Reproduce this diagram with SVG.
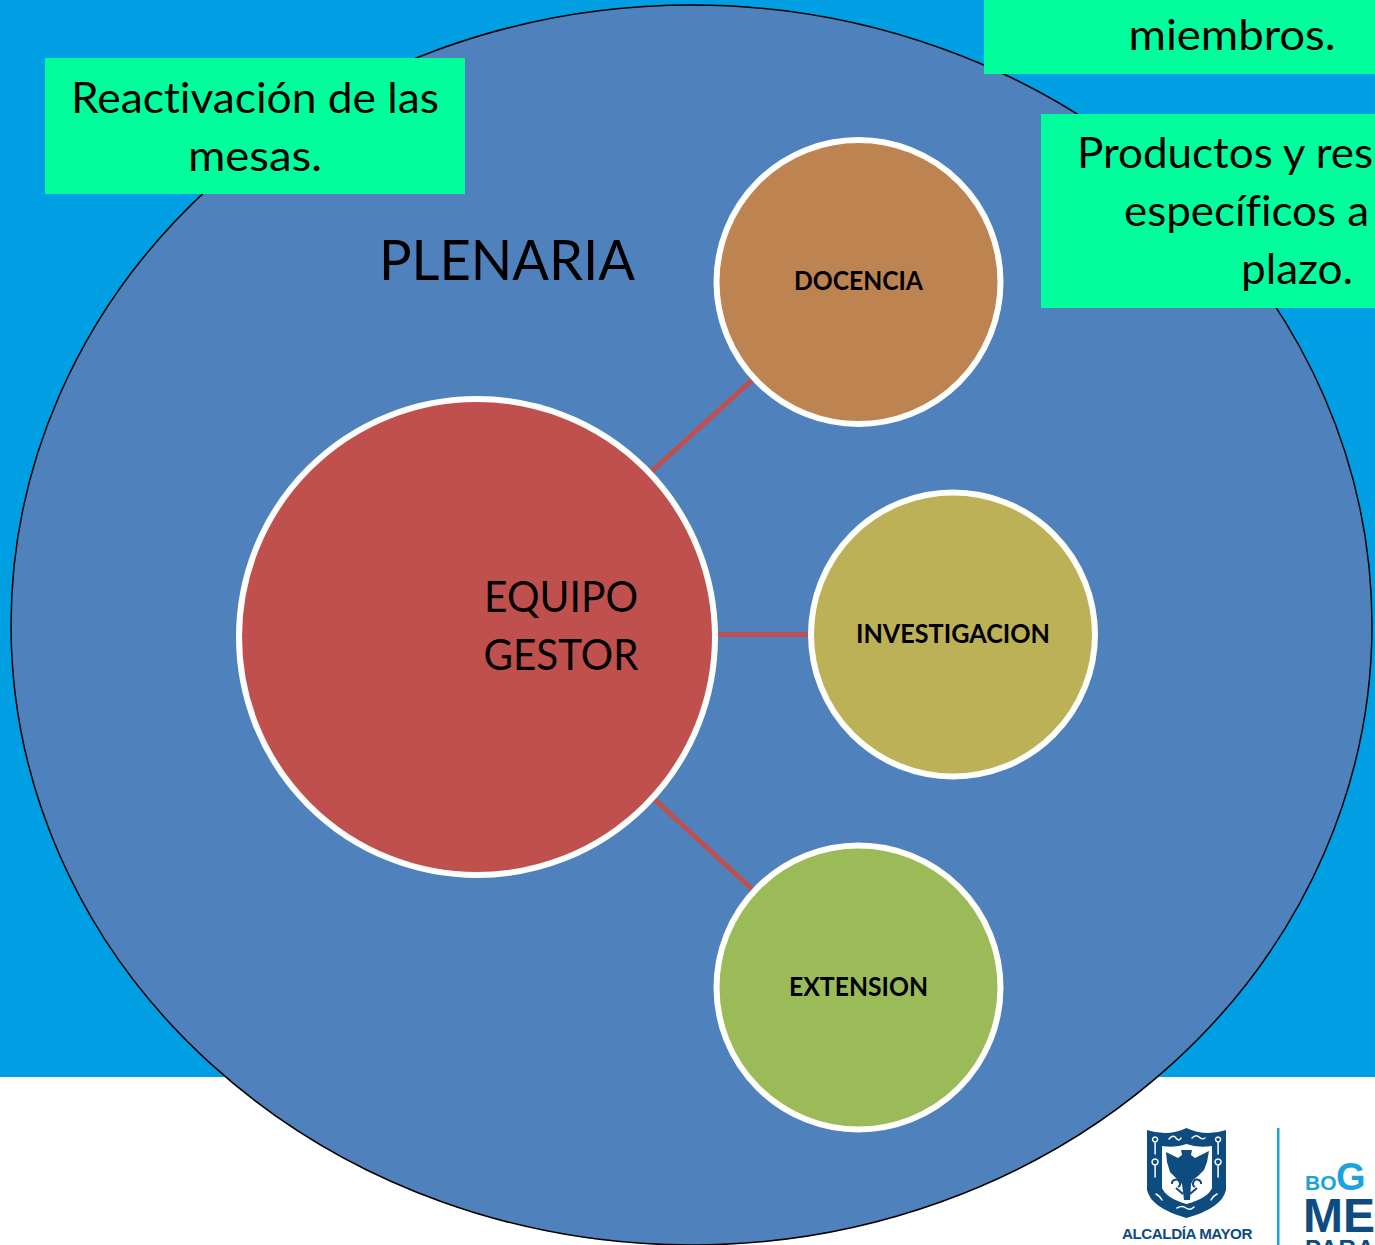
<svg xmlns="http://www.w3.org/2000/svg" width="1375" height="1245" viewBox="0 0 1375 1245">
<style>
text{font-variant-ligatures:none}
.big{font-family:"Lato","Liberation Sans",sans-serif;font-size:43px;fill:#000;text-anchor:middle}
.sm{font-family:"Lato","Liberation Sans",sans-serif;font-size:26px;font-weight:700;fill:#000;text-anchor:middle}
.node{stroke:#fff;stroke-width:6}
.box{fill:#00ff9c}
.link{stroke:#c0504d;stroke-width:5;fill:none}
.navy{fill:#0e4c7f}
.orn{fill:none;stroke:#fff;stroke-width:1.500;stroke-linecap:round}
.lg{font-family:"Liberation Sans",sans-serif;font-weight:700}
</style>
<rect width="1375" height="1077" fill="#009fe3"/>
<rect y="1077" width="1375" height="168" fill="#fff"/>
<g id="plenaria">
<ellipse cx="691.500" cy="625" rx="680.500" ry="620" fill="#4f81bd" stroke="#000" stroke-width="1.500"/>
<text x="507" y="280" class="big" style="font-size:56px" textLength="256" lengthAdjust="spacingAndGlyphs">PLENARIA</text>
</g>
<g id="connectors">
<line class="link" x1="651" y1="472" x2="752" y2="380"/>
<line class="link" x1="716" y1="634.500" x2="809" y2="634.500"/>
<line class="link" x1="653" y1="798" x2="752" y2="889"/>
</g>
<g id="equipo-gestor">
<circle class="node" cx="477" cy="637" r="238" fill="#c0504d"/>
<text x="561" y="612" class="big" textLength="154" lengthAdjust="spacingAndGlyphs">EQUIPO</text>
<text x="561" y="670" class="big" textLength="155" lengthAdjust="spacingAndGlyphs">GESTOR</text>
</g>
<g id="docencia">
<circle class="node" cx="858.500" cy="282" r="142" fill="#bd8351"/>
<text x="858.500" y="290" class="sm" textLength="129" lengthAdjust="spacingAndGlyphs">DOCENCIA</text>
</g>
<g id="investigacion">
<circle class="node" cx="953" cy="634.500" r="142" fill="#bdb158"/>
<text x="953" y="643" class="sm" textLength="194" lengthAdjust="spacingAndGlyphs">INVESTIGACION</text>
</g>
<g id="extension">
<circle class="node" cx="858.500" cy="987.500" r="142" fill="#9bbb59"/>
<text x="858.500" y="996" class="sm" textLength="139" lengthAdjust="spacingAndGlyphs">EXTENSION</text>
</g>
<g id="box-reactivacion">
<rect class="box" x="45" y="58" width="420" height="136"/>
<text x="255" y="113" class="big" textLength="368" lengthAdjust="spacingAndGlyphs">Reactivación de las</text>
<text x="255" y="171" class="big" textLength="134" lengthAdjust="spacingAndGlyphs">mesas.</text>
</g>
<g id="box-miembros">
<rect class="box" x="984" y="-10" width="391" height="84"/>
<text x="1232" y="50" class="big" textLength="207" lengthAdjust="spacingAndGlyphs">miembros.</text>
</g>
<g id="box-productos">
<rect class="box" x="1041" y="114" width="334" height="194"/>
<text x="1077" y="168" class="big" style="text-anchor:start" textLength="296" lengthAdjust="spacingAndGlyphs">Productos y res</text>
<text x="1124" y="226" class="big" style="text-anchor:start" textLength="245" lengthAdjust="spacingAndGlyphs">específicos a</text>
<text x="1297" y="284" class="big" textLength="112" lengthAdjust="spacingAndGlyphs">plazo.</text>
</g>
<g id="logo">
<path class="navy" d="M1147 1130Q1168 1137 1186.500 1128Q1205 1137 1226 1130V1190Q1222 1208 1186.500 1218Q1151 1208 1147 1190Z"/>
<path d="M1162 1146Q1176 1148 1186.500 1144Q1197 1148 1212 1146V1188Q1208 1198 1186.500 1204Q1166 1198 1162 1188Z" fill="#fff"/>
<path class="navy" d="M1166 1152L1178 1158L1182 1155L1181 1150H1192L1191 1155L1195 1158L1209 1151L1207 1162L1204 1170L1198 1176L1193 1180L1191 1184L1190 1200H1184L1182 1184L1176 1178L1170 1172L1167 1162Z"/>
<path d="M1172 1184a4 4 0 1 1 6 3M1201 1184a4 4 0 1 0-6 3M1176 1188L1183 1194M1197 1188L1190 1194" fill="none" stroke="#0e4c7f" stroke-width="2"/>
<path class="orn" d="M1169 1139q4-5 7-1t5 0M1192 1138q4-4 7-1t6 1M1155 1142a2.500 2.500 0 1 1 .1 0v12M1218 1142a2.500 2.500 0 1 1 .1 0v12M1155 1165a3 3 0 1 1 .1 0v12M1218 1165a3 3 0 1 1 .1 0v12M1156 1194q4 2 6 6M1217 1194q-4 2-6 6M1177 1208q5-3 9 0t8-1"/>
<text x="1187" y="1239" class="lg" style="font-size:14.500px;letter-spacing:-.45px;text-anchor:middle" fill="#0e4c7f" textLength="130" lengthAdjust="spacingAndGlyphs">ALCALDÍA MAYOR</text>
<rect x="1277" y="1128" width="2.500" height="117" fill="#1aa3dc"/>
<text x="1305" y="1190" class="lg" style="font-size:21px" fill="#1aa3dc">BO</text>
<text x="1336" y="1190" class="lg" style="font-size:38px" fill="#1aa3dc">G</text>
<text x="1303" y="1232" class="lg" style="font-size:48px" fill="#0e4c7f">ME</text>
<text x="1305" y="1257" class="lg" style="font-size:24px;letter-spacing:1px" fill="#0e4c7f">PARA</text>
</g>
</svg>
